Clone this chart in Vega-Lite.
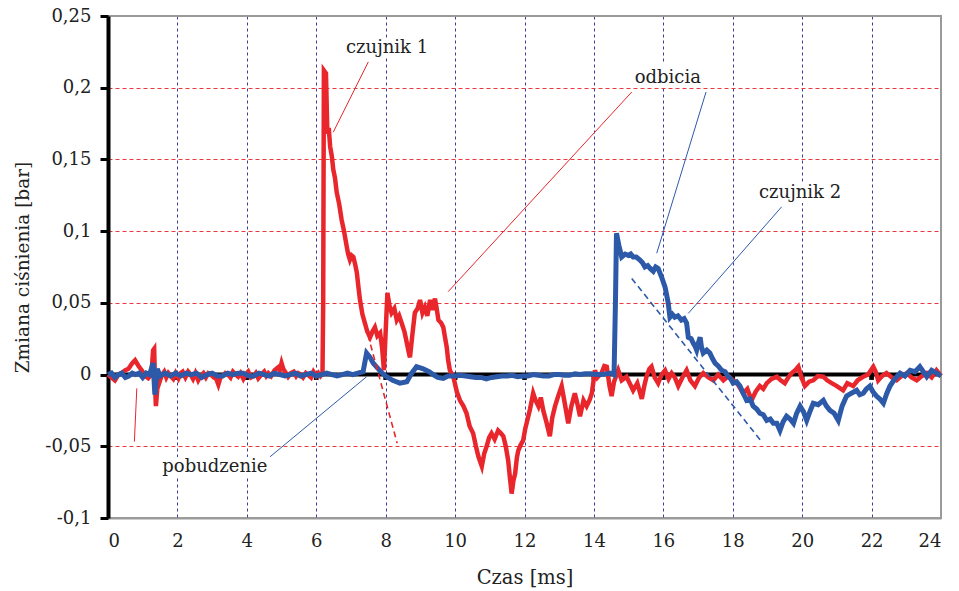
{
  "$schema": "https://vega.github.io/schema/vega-lite/v6.json",
  "width": 833,
  "height": 502,
  "autosize": "none",
  "padding": {"left": 108, "top": 16, "right": 18, "bottom": 73},
  "background": "white",
  "config": {
    "view": {"stroke": "#9a9a9a", "strokeWidth": 2},
    "font": "DejaVu Serif",
    "axis": {"labelFont": "DejaVu Serif", "titleFont": "DejaVu Serif", "labelColor": "#222", "titleColor": "#222", "titleFontWeight": "normal"}
  },
  "datasets": {
    "red": [
      {"t":0.0,"v":0.0},{"t":0.1,"v":-0.002},{"t":0.2,"v":-0.004},{"t":0.3,"v":0.0},{"t":0.39,"v":0.001},{"t":0.5,"v":0.003},{"t":0.59,"v":0.004},{"t":0.7,"v":0.008},{"t":0.78,"v":0.01},{"t":0.88,"v":0.006},{"t":0.97,"v":0.003},{"t":1.07,"v":-0.001},{"t":1.16,"v":-0.0026},{"t":1.25,"v":0.0},{"t":1.3,"v":0.017},{"t":1.33,"v":0.018},{"t":1.36,"v":-0.01},{"t":1.38,"v":-0.022},{"t":1.42,"v":-0.01},{"t":1.5,"v":-0.004},{"t":1.56,"v":0.0},{"t":1.62,"v":0.002},{"t":1.68,"v":-0.002},{"t":1.74,"v":0.001},{"t":1.81,"v":-0.001},{"t":1.88,"v":-0.003},{"t":1.95,"v":0.001},{"t":2.03,"v":-0.0026},{"t":2.09,"v":0.001},{"t":2.15,"v":0.002},{"t":2.23,"v":-0.002},{"t":2.31,"v":0.002},{"t":2.38,"v":0.0},{"t":2.45,"v":-0.003},{"t":2.52,"v":0.001},{"t":2.6,"v":-0.004},{"t":2.67,"v":-0.001},{"t":2.75,"v":0.001},{"t":2.82,"v":-0.002},{"t":2.89,"v":0.001},{"t":2.97,"v":0.0},{"t":3.05,"v":-0.002},{"t":3.12,"v":-0.003},{"t":3.18,"v":-0.007},{"t":3.24,"v":-0.002},{"t":3.3,"v":-0.001},{"t":3.38,"v":0.001},{"t":3.47,"v":-0.0003},{"t":3.53,"v":-0.002},{"t":3.6,"v":0.002},{"t":3.68,"v":0.0},{"t":3.75,"v":-0.0015},{"t":3.82,"v":0.001},{"t":3.9,"v":-0.003},{"t":3.97,"v":0.0},{"t":4.04,"v":0.002},{"t":4.12,"v":-0.002},{"t":4.2,"v":-0.001},{"t":4.26,"v":0.001},{"t":4.33,"v":-0.0026},{"t":4.42,"v":0.0},{"t":4.5,"v":0.002},{"t":4.56,"v":-0.001},{"t":4.62,"v":0.001},{"t":4.7,"v":-0.001},{"t":4.8,"v":0.003},{"t":4.9,"v":0.005},{"t":4.95,"v":0.003},{"t":5.0,"v":0.008},{"t":5.05,"v":0.004},{"t":5.1,"v":0.002},{"t":5.19,"v":-0.0015},{"t":5.27,"v":0.001},{"t":5.35,"v":0.002},{"t":5.42,"v":-0.001},{"t":5.48,"v":0.001},{"t":5.55,"v":0.0},{"t":5.62,"v":-0.002},{"t":5.7,"v":0.001},{"t":5.77,"v":-0.0003},{"t":5.85,"v":-0.002},{"t":5.92,"v":0.002},{"t":6.0,"v":-0.001},{"t":6.06,"v":0.001},{"t":6.12,"v":-0.001},{"t":6.18,"v":0.001},{"t":6.2,"v":0.05},{"t":6.22,"v":0.212},{"t":6.28,"v":0.21},{"t":6.32,"v":0.168},{"t":6.36,"v":0.172},{"t":6.4,"v":0.159},{"t":6.45,"v":0.152},{"t":6.49,"v":0.143},{"t":6.54,"v":0.137},{"t":6.59,"v":0.127},{"t":6.66,"v":0.119},{"t":6.73,"v":0.108},{"t":6.8,"v":0.1},{"t":6.88,"v":0.089},{"t":6.92,"v":0.084},{"t":6.97,"v":0.08},{"t":7.02,"v":0.083},{"t":7.07,"v":0.082},{"t":7.12,"v":0.077},{"t":7.17,"v":0.071},{"t":7.22,"v":0.06},{"t":7.26,"v":0.052},{"t":7.33,"v":0.042},{"t":7.4,"v":0.036},{"t":7.47,"v":0.03},{"t":7.55,"v":0.026},{"t":7.62,"v":0.03},{"t":7.69,"v":0.033},{"t":7.76,"v":0.027},{"t":7.84,"v":0.029},{"t":7.9,"v":0.018},{"t":7.95,"v":0.003},{"t":8.0,"v":0.03},{"t":8.05,"v":0.057},{"t":8.11,"v":0.048},{"t":8.17,"v":0.043},{"t":8.25,"v":0.046},{"t":8.32,"v":0.038},{"t":8.39,"v":0.041},{"t":8.46,"v":0.036},{"t":8.54,"v":0.03},{"t":8.61,"v":0.022},{"t":8.66,"v":0.016},{"t":8.7,"v":0.012},{"t":8.77,"v":0.028},{"t":8.84,"v":0.043},{"t":8.92,"v":0.046},{"t":8.99,"v":0.052},{"t":9.06,"v":0.043},{"t":9.13,"v":0.047},{"t":9.2,"v":0.041},{"t":9.28,"v":0.052},{"t":9.35,"v":0.045},{"t":9.42,"v":0.053},{"t":9.47,"v":0.046},{"t":9.52,"v":0.038},{"t":9.6,"v":0.036},{"t":9.66,"v":0.033},{"t":9.71,"v":0.026},{"t":9.76,"v":0.019},{"t":9.8,"v":0.01},{"t":9.85,"v":0.003},{"t":9.95,"v":-0.0015},{"t":10.05,"v":-0.012},{"t":10.14,"v":-0.018},{"t":10.24,"v":-0.022},{"t":10.33,"v":-0.027},{"t":10.42,"v":-0.036},{"t":10.52,"v":-0.041},{"t":10.6,"v":-0.05},{"t":10.67,"v":-0.057},{"t":10.77,"v":-0.064},{"t":10.84,"v":-0.055},{"t":10.91,"v":-0.05},{"t":10.98,"v":-0.044},{"t":11.05,"v":-0.041},{"t":11.14,"v":-0.045},{"t":11.24,"v":-0.039},{"t":11.32,"v":-0.041},{"t":11.39,"v":-0.043},{"t":11.46,"v":-0.05},{"t":11.53,"v":-0.06},{"t":11.58,"v":-0.072},{"t":11.63,"v":-0.083},{"t":11.68,"v":-0.074},{"t":11.73,"v":-0.069},{"t":11.78,"v":-0.058},{"t":11.82,"v":-0.053},{"t":11.89,"v":-0.049},{"t":11.96,"v":-0.046},{"t":12.02,"v":-0.038},{"t":12.08,"v":-0.032},{"t":12.16,"v":-0.024},{"t":12.25,"v":-0.013},{"t":12.32,"v":-0.018},{"t":12.4,"v":-0.022},{"t":12.47,"v":-0.016},{"t":12.54,"v":-0.025},{"t":12.63,"v":-0.033},{"t":12.73,"v":-0.043},{"t":12.8,"v":-0.03},{"t":12.88,"v":-0.022},{"t":12.97,"v":-0.015},{"t":13.07,"v":-0.008},{"t":13.16,"v":-0.02},{"t":13.26,"v":-0.034},{"t":13.35,"v":-0.022},{"t":13.45,"v":-0.013},{"t":13.52,"v":-0.02},{"t":13.6,"v":-0.029},{"t":13.7,"v":-0.018},{"t":13.79,"v":-0.022},{"t":13.87,"v":-0.018},{"t":13.94,"v":-0.013},{"t":14.03,"v":0.003},{"t":14.1,"v":-0.002},{"t":14.22,"v":0.001},{"t":14.3,"v":0.006},{"t":14.37,"v":0.0055},{"t":14.45,"v":-0.008},{"t":14.51,"v":-0.015},{"t":14.58,"v":-0.005},{"t":14.7,"v":0.003},{"t":14.8,"v":-0.004},{"t":14.94,"v":-0.0015},{"t":15.03,"v":-0.006},{"t":15.13,"v":-0.011},{"t":15.25,"v":-0.006},{"t":15.38,"v":-0.017},{"t":15.45,"v":-0.008},{"t":15.52,"v":-0.001},{"t":15.6,"v":0.004},{"t":15.66,"v":0.0055},{"t":15.75,"v":-0.002},{"t":15.85,"v":-0.006},{"t":15.95,"v":0.0},{"t":16.05,"v":0.003},{"t":16.15,"v":-0.003},{"t":16.24,"v":0.001},{"t":16.33,"v":-0.002},{"t":16.43,"v":-0.008},{"t":16.55,"v":-0.002},{"t":16.67,"v":0.003},{"t":16.78,"v":-0.004},{"t":16.91,"v":-0.008},{"t":17.03,"v":-0.002},{"t":17.15,"v":0.001},{"t":17.3,"v":-0.002},{"t":17.44,"v":-0.004},{"t":17.58,"v":0.0},{"t":17.73,"v":-0.004},{"t":17.87,"v":-0.001},{"t":18.01,"v":-0.004},{"t":18.15,"v":-0.007},{"t":18.3,"v":-0.013},{"t":18.42,"v":-0.01},{"t":18.54,"v":-0.018},{"t":18.66,"v":-0.012},{"t":18.78,"v":-0.008},{"t":18.88,"v":-0.01},{"t":18.98,"v":-0.006},{"t":19.12,"v":-0.003},{"t":19.27,"v":-0.0015},{"t":19.38,"v":-0.004},{"t":19.5,"v":-0.006},{"t":19.6,"v":-0.002},{"t":19.7,"v":0.001},{"t":19.8,"v":0.003},{"t":19.89,"v":0.0055},{"t":19.98,"v":-0.002},{"t":20.08,"v":-0.008},{"t":20.2,"v":-0.005},{"t":20.32,"v":-0.004},{"t":20.45,"v":-0.001},{"t":20.61,"v":-0.0015},{"t":20.72,"v":-0.004},{"t":20.85,"v":-0.006},{"t":21.0,"v":-0.008},{"t":21.18,"v":-0.011},{"t":21.3,"v":-0.006},{"t":21.47,"v":-0.008},{"t":21.6,"v":-0.004},{"t":21.76,"v":-0.0015},{"t":21.9,"v":0.0},{"t":22.05,"v":0.0055},{"t":22.12,"v":0.002},{"t":22.19,"v":-0.004},{"t":22.3,"v":-0.001},{"t":22.43,"v":0.001},{"t":22.58,"v":-0.002},{"t":22.72,"v":-0.004},{"t":22.86,"v":-0.001},{"t":23.01,"v":0.001},{"t":23.15,"v":-0.002},{"t":23.3,"v":-0.004},{"t":23.45,"v":-0.001},{"t":23.59,"v":0.001},{"t":23.73,"v":-0.002},{"t":23.87,"v":0.003},{"t":24.0,"v":-0.001}
    ],
    "blue": [
      {"t":0.0,"v":0.0},{"t":0.1,"v":0.001},{"t":0.2,"v":-0.002},{"t":0.3,"v":0.0},{"t":0.4,"v":0.001},{"t":0.5,"v":-0.002},{"t":0.6,"v":-0.001},{"t":0.7,"v":0.001},{"t":0.8,"v":0.0},{"t":0.9,"v":0.001},{"t":1.0,"v":-0.002},{"t":1.1,"v":0.001},{"t":1.2,"v":0.0},{"t":1.3,"v":0.008},{"t":1.35,"v":-0.014},{"t":1.42,"v":0.004},{"t":1.5,"v":-0.001},{"t":1.65,"v":0.001},{"t":1.8,"v":-0.001},{"t":1.95,"v":0.001},{"t":2.1,"v":-0.001},{"t":2.25,"v":0.001},{"t":2.4,"v":0.0},{"t":2.55,"v":0.001},{"t":2.7,"v":-0.002},{"t":2.85,"v":0.0},{"t":3.0,"v":0.001},{"t":3.15,"v":-0.001},{"t":3.3,"v":-0.001},{"t":3.45,"v":0.001},{"t":3.6,"v":0.0},{"t":3.75,"v":0.001},{"t":3.9,"v":0.001},{"t":4.05,"v":-0.001},{"t":4.2,"v":-0.001},{"t":4.35,"v":0.001},{"t":4.5,"v":0.0},{"t":4.65,"v":-0.001},{"t":4.8,"v":0.001},{"t":4.95,"v":0.0},{"t":5.1,"v":-0.001},{"t":5.25,"v":0.0},{"t":5.4,"v":0.001},{"t":5.55,"v":-0.001},{"t":5.7,"v":0.0},{"t":5.85,"v":0.001},{"t":6.0,"v":-0.001},{"t":6.15,"v":0.0},{"t":6.3,"v":0.001},{"t":6.45,"v":0.0},{"t":6.6,"v":-0.001},{"t":6.75,"v":0.0},{"t":6.9,"v":0.001},{"t":7.05,"v":0.0},{"t":7.2,"v":0.001},{"t":7.35,"v":0.002},{"t":7.45,"v":0.015},{"t":7.55,"v":0.012},{"t":7.64,"v":0.008},{"t":7.73,"v":0.0055},{"t":7.9,"v":0.001},{"t":8.03,"v":-0.0015},{"t":8.2,"v":-0.004},{"t":8.41,"v":-0.006},{"t":8.61,"v":-0.005},{"t":8.75,"v":0.001},{"t":8.89,"v":0.0055},{"t":9.08,"v":0.004},{"t":9.25,"v":0.002},{"t":9.37,"v":0.0},{"t":9.5,"v":-0.002},{"t":9.66,"v":-0.0026},{"t":9.8,"v":-0.001},{"t":10.0,"v":-0.001},{"t":10.15,"v":-0.0005},{"t":10.3,"v":-0.001},{"t":10.45,"v":-0.0015},{"t":10.6,"v":-0.002},{"t":10.75,"v":-0.002},{"t":10.9,"v":-0.003},{"t":11.05,"v":-0.002},{"t":11.2,"v":-0.0015},{"t":11.35,"v":-0.001},{"t":11.5,"v":-0.001},{"t":11.65,"v":-0.0005},{"t":11.8,"v":-0.0015},{"t":11.95,"v":-0.001},{"t":12.1,"v":-0.001},{"t":12.25,"v":0.0},{"t":12.4,"v":-0.0005},{"t":12.55,"v":-0.001},{"t":12.7,"v":-0.001},{"t":12.85,"v":0.0},{"t":13.0,"v":0.0},{"t":13.15,"v":-0.0005},{"t":13.3,"v":-0.0005},{"t":13.45,"v":0.0005},{"t":13.6,"v":0.0},{"t":13.75,"v":0.0005},{"t":13.9,"v":0.0005},{"t":14.05,"v":0.0},{"t":14.2,"v":0.0},{"t":14.35,"v":0.0005},{"t":14.5,"v":0.001},{"t":14.58,"v":0.0},{"t":14.62,"v":0.05},{"t":14.65,"v":0.0985},{"t":14.72,"v":0.09},{"t":14.8,"v":0.082},{"t":14.9,"v":0.084},{"t":14.99,"v":0.083},{"t":15.06,"v":0.084},{"t":15.13,"v":0.082},{"t":15.22,"v":0.082},{"t":15.32,"v":0.08},{"t":15.4,"v":0.078},{"t":15.47,"v":0.075},{"t":15.55,"v":0.076},{"t":15.62,"v":0.074},{"t":15.71,"v":0.072},{"t":15.78,"v":0.075},{"t":15.85,"v":0.074},{"t":15.95,"v":0.068},{"t":16.05,"v":0.061},{"t":16.1,"v":0.055},{"t":16.14,"v":0.05},{"t":16.19,"v":0.04},{"t":16.26,"v":0.042},{"t":16.33,"v":0.04},{"t":16.42,"v":0.041},{"t":16.52,"v":0.038},{"t":16.6,"v":0.039},{"t":16.67,"v":0.036},{"t":16.72,"v":0.026},{"t":16.8,"v":0.025},{"t":16.86,"v":0.022},{"t":16.91,"v":0.02},{"t":16.96,"v":0.017},{"t":17.01,"v":0.022},{"t":17.06,"v":0.026},{"t":17.1,"v":0.019},{"t":17.15,"v":0.015},{"t":17.25,"v":0.017},{"t":17.34,"v":0.015},{"t":17.42,"v":0.011},{"t":17.49,"v":0.008},{"t":17.58,"v":0.006},{"t":17.68,"v":0.003},{"t":17.78,"v":0.002},{"t":17.87,"v":-0.0015},{"t":17.94,"v":-0.003},{"t":18.01,"v":-0.006},{"t":18.11,"v":-0.005},{"t":18.21,"v":-0.008},{"t":18.3,"v":-0.013},{"t":18.4,"v":-0.018},{"t":18.5,"v":-0.017},{"t":18.59,"v":-0.022},{"t":18.69,"v":-0.024},{"t":18.78,"v":-0.027},{"t":18.88,"v":-0.028},{"t":18.98,"v":-0.032},{"t":19.08,"v":-0.031},{"t":19.17,"v":-0.034},{"t":19.27,"v":-0.034},{"t":19.36,"v":-0.039},{"t":19.45,"v":-0.033},{"t":19.55,"v":-0.029},{"t":19.65,"v":-0.031},{"t":19.75,"v":-0.034},{"t":19.84,"v":-0.027},{"t":19.94,"v":-0.022},{"t":20.04,"v":-0.026},{"t":20.13,"v":-0.032},{"t":20.22,"v":-0.026},{"t":20.32,"v":-0.02},{"t":20.46,"v":-0.021},{"t":20.61,"v":-0.018},{"t":20.7,"v":-0.022},{"t":20.8,"v":-0.025},{"t":20.92,"v":-0.027},{"t":21.04,"v":-0.032},{"t":21.15,"v":-0.022},{"t":21.28,"v":-0.015},{"t":21.42,"v":-0.013},{"t":21.57,"v":-0.011},{"t":21.66,"v":-0.014},{"t":21.76,"v":-0.013},{"t":21.85,"v":-0.01},{"t":21.95,"v":-0.008},{"t":22.04,"v":-0.012},{"t":22.14,"v":-0.015},{"t":22.24,"v":-0.017},{"t":22.34,"v":-0.02},{"t":22.44,"v":-0.013},{"t":22.53,"v":-0.008},{"t":22.67,"v":-0.003},{"t":22.82,"v":0.001},{"t":22.96,"v":-0.001},{"t":23.11,"v":0.003},{"t":23.25,"v":0.002},{"t":23.39,"v":0.0055},{"t":23.49,"v":0.002},{"t":23.59,"v":-0.0015},{"t":23.73,"v":0.003},{"t":23.87,"v":0.001},{"t":24.0,"v":-0.001}
    ],
    "dashed": [
      {"t":7.49,"v":0.0276,"t2":8.33,"v2":-0.0478,"c":"red"},
      {"t":15.09,"v":0.067,"t2":18.84,"v2":-0.047,"c":"blue"}
    ],
    "leaders": [
      {"t":7.5,"v":0.218,"t2":6.49,"v2":0.169,"c":"red"},
      {"t":15.09,"v":0.197,"t2":9.8,"v2":0.0578,"c":"red"},
      {"t":17.23,"v":0.197,"t2":15.81,"v2":0.0846,"c":"blue"},
      {"t":19.41,"v":0.117,"t2":16.72,"v2":0.0427,"c":"blue"},
      {"t":4.67,"v":-0.0573,"t2":7.45,"v2":-0.0015,"c":"blue"},
      {"t":0.83,"v":-0.0096,"t2":0.76,"v2":-0.0468,"c":"red"}
    ],
    "labels": [
      {"t":8.04,"v":0.2278,"label":"czujnik 1"},
      {"t":16.13,"v":0.2068,"label":"odbicia"},
      {"t":19.94,"v":0.1266,"label":"czujnik 2"},
      {"t":3.08,"v":-0.0644,"label":"pobudzenie"}
    ],
    "zeroticks": [
      {"t":2,"v":0},{"t":4,"v":0},{"t":6,"v":0},{"t":8,"v":0},{"t":10,"v":0},{"t":12,"v":0},{"t":14,"v":0},{"t":16,"v":0},{"t":18,"v":0},{"t":20,"v":0},{"t":22,"v":0}
    ],
    "zero": [{"v":0}]
  },
  "layer": [
    {
      "data": {"name": "zero"},
      "mark": {"type": "rule", "color": "#000", "strokeWidth": 4},
      "encoding": {
        "y": {
          "field": "v", "type": "quantitative",
          "scale": {"domain": [-0.1, 0.25], "nice": false, "zero": false},
          "axis": {
            "values": [-0.1, -0.05, 0, 0.05, 0.1, 0.15, 0.2, 0.25],
            "labelExpr": "replace(datum.value + '', '.', ',')",
            "labelFontSize": 18,
            "labelPadding": 9,
            "labelBaseline": "middle",
            "domainColor": "#000", "domainWidth": 4,
            "tickColor": "#000", "tickWidth": 3, "tickSize": 8,
            "grid": true,
            "gridColor": {"condition": {"test": "datum.value == 0.25 || datum.value == -0.1", "value": "#9a9a9a"}, "value": "#e8393c"},
            "gridDash": {"condition": {"test": "datum.value == 0.25 || datum.value == -0.1", "value": []}, "value": [4, 3]},
            "gridWidth": 1,
            "title": "Zmiana ciśnienia [bar]",
            "titleFontSize": 18.5,
            "titleAngle": -90,
            "titleX": -86,
            "titleY": 251,
            "titleAlign": "center",
            "titleBaseline": "middle"
          }
        }
      }
    },
    {
      "data": {"name": "zeroticks"},
      "mark": {"type": "point", "shape": "square", "filled": true, "color": "#000", "size": 22, "opacity": 1, "yOffset": 3},
      "encoding": {
        "x": {
          "field": "t", "type": "quantitative",
          "scale": {"domain": [0, 24], "nice": false, "zero": false},
          "axis": {
            "values": [0, 2, 4, 6, 8, 10, 12, 14, 16, 18, 20, 22, 24],
            "labelFontSize": 18,
            "labelPadding": 14,
            "ticks": false,
            "domainColor": "#9a9a9a", "domainWidth": 2,
            "grid": true,
            "gridColor": {"condition": {"test": "datum.value == 24 || datum.value == 0", "value": "#9a9a9a"}, "value": "#3c3c9c"},
            "gridDash": {"condition": {"test": "datum.value == 24 || datum.value == 0", "value": []}, "value": [3, 3]},
            "gridWidth": 1,
            "title": "Czas [ms]",
            "titleFontSize": 19.5,
            "titleY": 65,
            "titleBaseline": "alphabetic"
          }
        },
        "y": {"field": "v", "type": "quantitative"}
      }
    },
    {
      "data": {"name": "red"},
      "mark": {"type": "line", "color": "#e8262c", "strokeWidth": 4.5, "strokeJoin": "miter"},
      "encoding": {
        "x": {"field": "t", "type": "quantitative"},
        "y": {"field": "v", "type": "quantitative"}
      }
    },
    {
      "data": {"name": "blue"},
      "mark": {"type": "line", "color": "#2d5aa8", "strokeWidth": 5, "strokeJoin": "miter"},
      "encoding": {
        "x": {"field": "t", "type": "quantitative"},
        "y": {"field": "v", "type": "quantitative"}
      }
    },
    {
      "data": {"name": "dashed"},
      "mark": {"type": "rule", "strokeWidth": 1.6, "strokeDash": [6, 4]},
      "encoding": {
        "x": {"field": "t", "type": "quantitative"},
        "y": {"field": "v", "type": "quantitative"},
        "x2": {"field": "t2"},
        "y2": {"field": "v2"},
        "color": {"field": "c", "type": "nominal", "scale": {"domain": ["red", "blue"], "range": ["#e8262c", "#2d5aa8"]}, "legend": null}
      }
    },
    {
      "data": {"name": "leaders"},
      "mark": {"type": "rule", "strokeWidth": 1},
      "encoding": {
        "x": {"field": "t", "type": "quantitative"},
        "y": {"field": "v", "type": "quantitative"},
        "x2": {"field": "t2"},
        "y2": {"field": "v2"},
        "color": {"field": "c", "type": "nominal", "scale": {"domain": ["red", "blue"], "range": ["#f0575a", "#4a72c4"]}, "legend": null}
      }
    },
    {
      "data": {"name": "labels"},
      "mark": {"type": "text", "font": "DejaVu Serif", "fontSize": 18, "color": "white", "stroke": "white", "strokeWidth": 10, "baseline": "middle", "align": "center"},
      "encoding": {
        "x": {"field": "t", "type": "quantitative"},
        "y": {"field": "v", "type": "quantitative"},
        "text": {"field": "label"}
      }
    },
    {
      "data": {"name": "labels"},
      "mark": {"type": "text", "font": "DejaVu Serif", "fontSize": 18, "color": "#222", "baseline": "middle", "align": "center"},
      "encoding": {
        "x": {"field": "t", "type": "quantitative"},
        "y": {"field": "v", "type": "quantitative"},
        "text": {"field": "label"}
      }
    }
  ]
}
